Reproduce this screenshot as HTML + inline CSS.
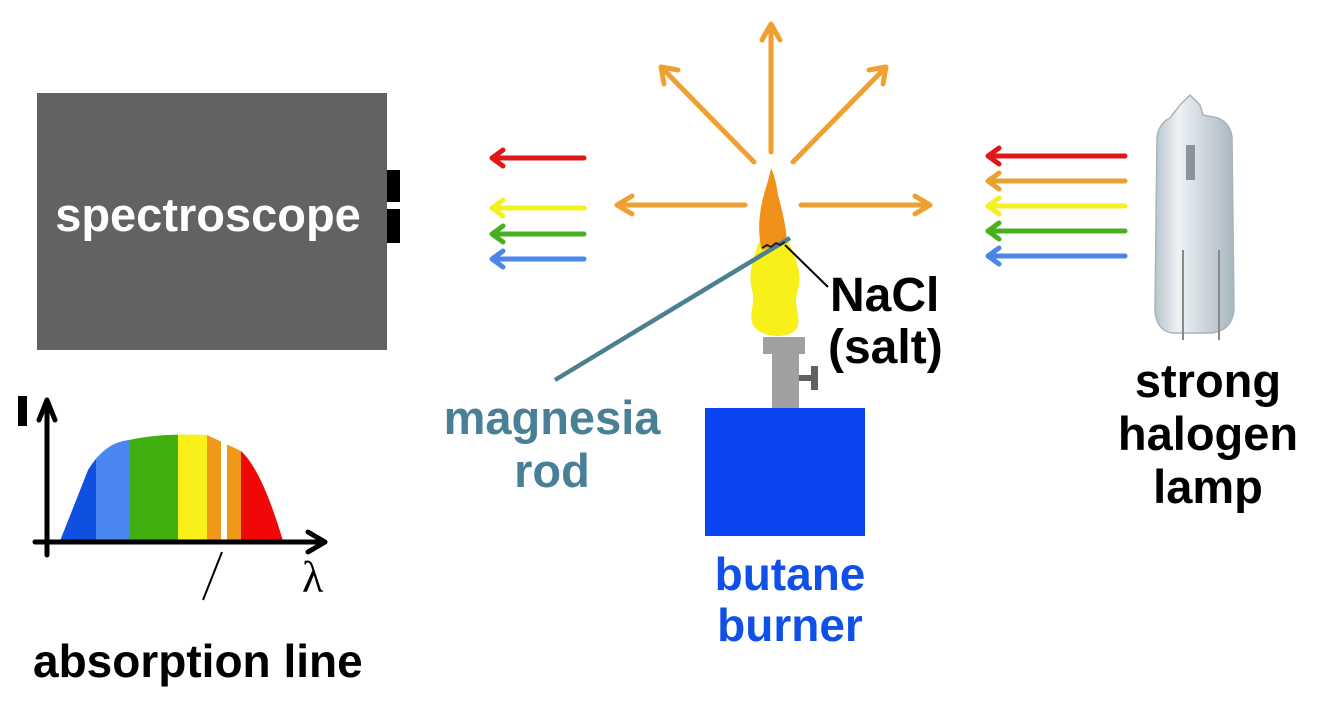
<!DOCTYPE html>
<html><head><meta charset="utf-8"><style>
html,body{margin:0;padding:0;background:#fff;}
svg{display:block;font-family:"Liberation Sans",Arial,sans-serif;font-weight:bold;}
</style></head><body>
<svg width="1317" height="711" viewBox="0 0 1317 711">
<defs>
<linearGradient id="g" x1="0" x2="1">
<stop offset="0" stop-color="#b8c4cc"/><stop offset="0.3" stop-color="#eef2f5"/><stop offset="0.6" stop-color="#cfd8de"/><stop offset="1" stop-color="#aab6bf"/>
</linearGradient>
</defs>
<!-- spectroscope -->
<rect x="37" y="93" width="350" height="257" fill="#626262"/>
<rect x="387" y="170" width="13" height="32" fill="#000"/>
<rect x="387" y="209" width="13" height="34" fill="#000"/>
<text x="208" y="231" fill="#fff" font-size="47" text-anchor="middle">spectroscope</text>
<!-- left arrows -->
<g stroke-width="5" stroke-linecap="round" stroke-linejoin="round" fill="none">
<path d="M584 158H492M503 150L492 158L503 166" stroke="#e01818"/>
<path d="M584 208H492M503 200L492 208L503 216" stroke="#f4f020"/>
<path d="M584 234H492M503 226L492 234L503 242" stroke="#48b020"/>
<path d="M584 259H492M503 251L492 259L503 267" stroke="#4a86e8"/>
<!-- right arrows -->
<path d="M1125 156H988M999 148L988 156L999 164" stroke="#e01818"/>
<path d="M1125 181H988M999 173L988 181L999 189" stroke="#e8a030"/>
<path d="M1125 206H988M999 198L988 206L999 214" stroke="#f4f020"/>
<path d="M1125 231H988M999 223L988 231L999 239" stroke="#48b020"/>
<path d="M1125 256H988M999 248L988 256L999 264" stroke="#4a86e8"/>
<!-- orange radiating -->
<g stroke="#f0a030">
<path d="M771 152V24M762 40L771 24L780 40"/>
<path d="M754 162L661 67M664 84L661 67L678 70"/>
<path d="M793 162L886 67M869 70L886 67L883 84"/>
<path d="M745 205H617M632 196L617 205L632 214"/>
<path d="M801 205H930M915 196L930 205L915 214"/>
</g>
</g>
<!-- flame -->
<path d="M760 240C752 260 748 275 752 290C756 305 748 312 753 325C760 338 790 340 797 328C802 316 792 305 798 290C803 272 795 258 788 240Z" fill="#f8f018"/>
<path d="M771 168C768 185 762 195 760 215C758 230 760 243 762 250L787 242C786 225 782 210 778 195C776 180 773 172 771 168Z" fill="#f09018"/>
<!-- burner -->
<rect x="763" y="337" width="42" height="17" fill="#a0a0a0"/>
<rect x="772" y="350" width="27" height="60" fill="#a0a0a0"/>
<rect x="799" y="375" width="12" height="6" fill="#606060"/>
<rect x="811" y="366" width="7" height="24" fill="#606060"/>
<rect x="705" y="408" width="160" height="128" fill="#0a44f0"/>
<text x="790" y="590" fill="#1050e8" font-size="46" text-anchor="middle">butane</text>
<text x="790" y="641" fill="#1050e8" font-size="46" text-anchor="middle">burner</text>
<!-- rod -->
<line x1="555" y1="380" x2="790" y2="238" stroke="#4a8090" stroke-width="4.5"/>
<path d="M762 248l5-3 4 2 5-4 4 2 5-3" stroke="#222" stroke-width="2" fill="none"/>
<line x1="785" y1="245" x2="828" y2="287" stroke="#000" stroke-width="2"/>
<text x="552" y="434" fill="#4a8095" font-size="47" text-anchor="middle">magnesia</text>
<text x="552" y="487" fill="#4a8095" font-size="47" text-anchor="middle">rod</text>
<text x="830" y="311" fill="#000" font-size="48">NaCl</text>
<text x="828" y="363" fill="#000" font-size="48">(salt)</text>
<!-- lamp -->
<path d="M1180 105L1190 95L1200 105L1203 115L1218 118Q1230 123 1232 137L1234 310Q1232 330 1212 333L1172 333Q1156 330 1155 310L1157 137Q1159 123 1170 118Z" fill="url(#g)" stroke="#a8b4bc" stroke-width="1.5"/>
<rect x="1186" y="145" width="9" height="35" fill="#8a949c"/>
<line x1="1183" y1="250" x2="1183" y2="340" stroke="#888" stroke-width="2"/>
<line x1="1219" y1="250" x2="1219" y2="340" stroke="#888" stroke-width="2"/>
<text x="1208" y="397" fill="#000" font-size="47" text-anchor="middle">strong</text>
<text x="1208" y="450" fill="#000" font-size="47" text-anchor="middle">halogen</text>
<text x="1208" y="503" fill="#000" font-size="47" text-anchor="middle">lamp</text>
<!-- graph -->
<clipPath id="c"><path d="M60 541L88 470Q105 442 129 440Q160 433 207 435L241 451Q262 470 283 541Z"/></clipPath>
<g clip-path="url(#c)">
<rect x="55" y="420" width="42" height="125" fill="#1050e0"/>
<rect x="96" y="420" width="33" height="125" fill="#4a86f0"/>
<rect x="129" y="420" width="49" height="125" fill="#40b010"/>
<rect x="178" y="420" width="30" height="125" fill="#f8f018"/>
<rect x="207" y="420" width="14" height="125" fill="#f09818"/>
<rect x="227" y="420" width="15" height="125" fill="#f09818"/>
<rect x="241" y="420" width="45" height="125" fill="#f00808"/>
</g>
<g stroke="#000" stroke-width="5" fill="none" stroke-linecap="round" stroke-linejoin="round">
<path d="M47 555V400M39 420L47 400L55 420"/>
<path d="M35 542H325M308 532L325 542L308 552"/>
</g>
<rect x="18" y="396" width="9" height="30" fill="#000"/>
<line x1="222" y1="552" x2="203" y2="600" stroke="#000" stroke-width="2"/>
<text x="302" y="592" fill="#000" font-size="44" font-weight="normal" font-family="Liberation Serif,serif">λ</text>
<text x="33" y="677" fill="#000" font-size="46">absorption line</text>
</svg>
</body></html>
